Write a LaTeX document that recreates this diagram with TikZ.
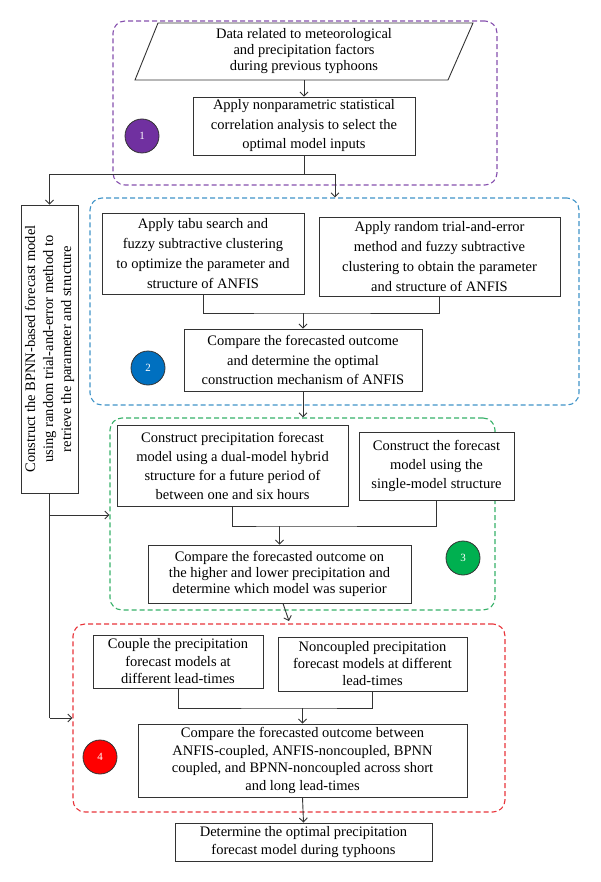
\documentclass[tikz,border=0pt]{standalone}
\usepackage{fontspec}
\setmainfont{Liberation Serif}
\usetikzlibrary{arrows.meta}
\definecolor{gpurple}{HTML}{8650AE}
\definecolor{gblue}{HTML}{4094C8}
\definecolor{ggreen}{HTML}{36B068}
\definecolor{gred}{HTML}{E8343A}
\definecolor{fpurple}{HTML}{7030A0}
\definecolor{fblue}{HTML}{0070C0}
\definecolor{fgreen}{HTML}{00B050}
\definecolor{fred}{HTML}{FF0000}
\definecolor{ink}{HTML}{333333}
\tikzset{
  boxnode/.style={draw=ink, fill=white, line width=0.9pt, align=center, inner sep=0pt,
    font=\fontsize{14.5}{17.5}\selectfont},
  grp/.style={dashed, dash pattern=on 5pt off 3pt, line width=1.1pt, rounded corners=12pt, inner sep=0pt},
  circ/.style={circle, draw=ink, line width=0.8pt, minimum size=34pt, inner sep=0pt,
    text=white, font=\fontsize{11}{12}\selectfont},
  conn/.style={draw=ink, line width=0.9pt},
  arr/.style={conn, -{Straight Barb[length=4pt,width=8pt]}}
}
\begin{document}
\begin{tikzpicture}[x=1pt,y=-1pt]
\useasboundingbox (0,0) rectangle (600,882);
% group boxes
\node[grp, draw=gpurple, minimum width=384pt, minimum height=164pt] (g1) at (305,103) {};
\node[grp, draw=gblue, minimum width=489pt, minimum height=207pt] (g2) at (334.5,301.5) {};
\node[grp, draw=ggreen, minimum width=385pt, minimum height=192pt] (g3) at (302.5,514) {};
\node[grp, draw=gred, minimum width=432pt, minimum height=188pt] (g4) at (289,718) {};
% section 1
\draw[draw=ink, fill=white, line width=0.9pt] (158,23) -- (473,23) -- (448,80) -- (135,80) -- cycle;
\node[align=center, inner sep=0pt, minimum height=57pt, font=\fontsize{14.5}{16}\selectfont] (data) at (304,51.5)
  {Data related to meteorological\\and precipitation factors\\during previous typhoons};
\node[boxnode, minimum width=222pt, minimum height=58pt, font=\fontsize{14.5}{19.5}\selectfont] (nonpar) at (304,126)
  {Apply nonparametric statistical\\correlation analysis to select the\\optimal model inputs};
\node[circ, fill=fpurple] (c1) at (142,136) {1};
% BPNN
\node[boxnode, minimum width=57pt, minimum height=288pt] (bpnn) at (49.5,349) {};
\node[rotate=90, align=center, inner sep=0pt, font=\fontsize{14.5}{18}\selectfont] (bpnntext) at (bpnn.center)
  {Construct the BPNN-based forecast model\\using random trial-and-error method to\\retrieve the parameter and structure};
% section 2
\node[boxnode, minimum width=202pt, minimum height=81pt, font=\fontsize{14.5}{20}\selectfont] (tabu) at (203,253.5)
  {Apply tabu search and\\fuzzy subtractive clustering\\to optimize the parameter and\\structure of ANFIS};
\node[boxnode, minimum width=241pt, minimum height=79pt, font=\fontsize{14.5}{20}\selectfont] (random) at (439.5,256.5)
  {Apply random trial-and-error\\method and fuzzy subtractive\\clustering to obtain the parameter\\and structure of ANFIS};
\node[boxnode, minimum width=238pt, minimum height=62pt, font=\fontsize{14.5}{19.5}\selectfont] (compare2) at (303,360)
  {Compare the forecasted outcome\\and determine the optimal\\construction mechanism of ANFIS};
\node[circ, fill=fblue] (c2) at (148,368) {2};
% section 3
\node[boxnode, minimum width=231pt, minimum height=81pt, font=\fontsize{14.5}{19}\selectfont] (precip) at (232.5,465.5)
  {Construct precipitation forecast\\model using a dual-model hybrid\\structure for a future period of\\between one and six hours};
\node[boxnode, minimum width=155pt, minimum height=68pt, font=\fontsize{14.5}{19}\selectfont] (single) at (436.5,466)
  {Construct the forecast\\model using the\\single-model structure};
\node[boxnode, minimum width=263pt, minimum height=58pt, font=\fontsize{14.5}{16}\selectfont] (compare3) at (279.5,574)
  {Compare the forecasted outcome on\\the higher and lower precipitation and\\determine which model was superior};
\node[circ, fill=fgreen] (c3) at (463,558) {3};
% section 4
\node[boxnode, minimum width=170pt, minimum height=53pt, font=\fontsize{14.5}{17.5}\selectfont] (couple) at (178,661.5)
  {Couple the precipitation\\forecast models at\\different lead-times};
\node[boxnode, minimum width=189pt, minimum height=54pt, font=\fontsize{14.5}{17}\selectfont] (noncoupled) at (372.5,664)
  {Noncoupled precipitation\\forecast models at different\\lead-times};
\node[boxnode, minimum width=329pt, minimum height=73pt, font=\fontsize{14.5}{17.5}\selectfont] (compare4) at (302.5,760.5)
  {Compare the forecasted outcome between\\ANFIS-coupled, ANFIS-noncoupled, BPNN\\coupled, and BPNN-noncoupled across short\\and long lead-times};
\node[circ, fill=fred] (c4) at (100,757) {4};
\node[boxnode, minimum width=257pt, minimum height=38pt, font=\fontsize{14.5}{18}\selectfont] (determine) at (303.5,842)
  {Determine the optimal precipitation\\forecast model during typhoons};
% connectors
\draw[arr] (data.south) -- (nonpar.north);
\coordinate (j1) at (304,174);
\coordinate (jl) at (49.5,174);
\coordinate (jr) at (335,174);
\draw[conn] (nonpar.south) -- (j1);
\draw[arr] (j1) -- (jr) -- (jr |- g2.north);
\draw[arr] (j1) -- (jl) -- (bpnn.north);
\coordinate (j2) at (303,313);
\draw[conn] (tabu.south) |- (j2) -| (random.south);
\draw[arr] (j2) -- (compare2.north);
\draw[arr] (compare2.south) -- (compare2.south |- g3.north);
\coordinate (j3) at (279.5,526);
\draw[conn] (precip.south) |- (j3) -| (single.south);
\draw[arr] (j3) -- (compare3.north);
\coordinate (e3) at (289,621);
\draw[arr] ([xshift=3.5pt]compare3.south) -- (e3);
\coordinate (j4) at (302.5,708);
\draw[conn] (couple.south) |- (j4) -| (noncoupled.south);
\draw[arr] (j4) -- (compare4.north);
\draw[arr] (compare4.south) -- (determine.north);
\coordinate (b1) at (49.5,515);
\coordinate (b2) at (49.5,718);
\draw[conn] (bpnn.south) -- (b2);
\draw[arr] (b1) -- (b1 -| g3.west);
\draw[arr] (b2) -- (b2 -| g4.west);
\end{tikzpicture}
\end{document}
